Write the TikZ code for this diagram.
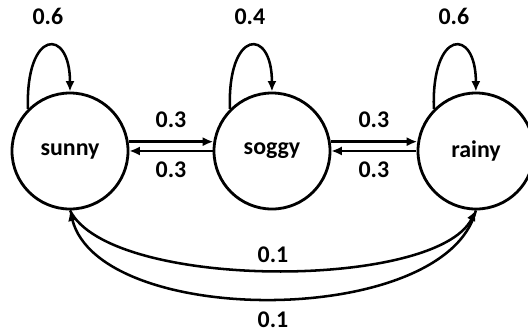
\documentclass[tikz,border=0pt]{standalone}
\usepackage{fontspec}
\setmainfont{Carlito}
\usepackage{tikz}
\usetikzlibrary{arrows.meta}

\begin{document}
\begin{tikzpicture}[scale=0.025]
                \tikzstyle{every node}+=[inner sep=0pt, font=\bfseries\fontsize{17}{20}\selectfont]
                \tikzstyle{state}=[draw=black, circle, line width=2pt, minimum size=2.9cm]
                \tikzstyle{edge}=[black, line width=1.8pt, -{Latex[length=7.5pt,width=6.5pt]}]
                \useasboundingbox (0,0) rectangle (528,-334);
                \node [state] (sunny) at (70,-151) {sunny};
                \node [state] (soggy) at (272,-151) {soggy};
                \node [state] (rainy) at (476,-151) {rainy};
                % self loops
                \draw [edge] (sunny.135) .. controls +(92:80) and +(90:65) .. (sunny.north) node [midway, above=14pt] {0.6};
                \draw [edge] (soggy.135) .. controls +(92:80) and +(90:65) .. (soggy.north) node [midway, above=14pt] {0.4};
                \draw [edge] (rainy.135) .. controls +(92:80) and +(90:65) .. (rainy.north) node [midway, above=14pt] {0.6};
                % neighbours
                \draw [edge] (sunny.9) -- (soggy.171) node [midway, above=9pt] {0.3};
                \draw [edge] (soggy.180) -- (sunny.0) node [midway, below=7pt] {0.3};
                \draw [edge] (soggy.9) -- (rainy.171) node [midway, above=9pt] {0.3};
                \draw [edge] (rainy.180) -- (soggy.0) node [midway, below=7pt] {0.3};
                % sunny <-> rainy
                \draw [edge] (sunny.south) .. controls +(40,-80) and +(-40,-80) .. (rainy.south) node [midway, above=4.5pt] {0.1};
                \draw [edge] (rainy.south) .. controls +(-30,-118) and +(30,-118) .. (sunny.south) node [midway, below=8pt] {0.1};
            \end{tikzpicture}
\end{document}
